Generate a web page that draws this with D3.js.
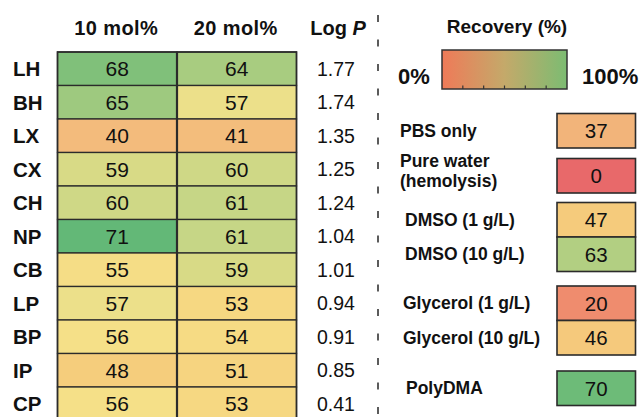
<!DOCTYPE html>
<html>
<head>
<meta charset="utf-8">
<script src="https://cdn.jsdelivr.net/npm/d3@7"></script>
<style>
  body { margin: 0; background: #fff; }
  text { font-family: 'Liberation Sans', Arial, sans-serif; fill: #111; }
</style>
</head>
<body>
<div id="chart-area"></div>
<script>
// DATA
const rows = ['LH', 'BH', 'LX', 'CX', 'CH', 'NP', 'CB', 'LP', 'BP', 'IP', 'CP']
const columns = ['10 mol%', '20 mol%']
const mol10 = [68, 65, 40, 59, 60, 71, 55, 57, 56, 48, 56]
const mol20 = [64, 57, 41, 60, 61, 61, 59, 53, 54, 51, 53]
const logP = ['1.77', '1.74', '1.35', '1.25', '1.24', '1.04', '1.01', '0.94', '0.91', '0.85', '0.41']

const controls = ['PBS only', 'Pure water|(hemolysis)', 'DMSO (1 g/L)', 'DMSO (10 g/L)',
                  'Glycerol (1 g/L)', 'Glycerol (10 g/L)', 'PolyDMA']
const controlValues = [37, 0, 47, 63, 20, 46, 70]
const controlGroup = [0, 1, 2, 2, 3, 3, 4]

// colour stops read from the cells
const colorStops = [0, 20, 40, 48, 53, 56, 57, 59, 61, 64, 68, 71]
const colorRange = ['#e8696a', '#ef8c6e', '#f3bb7c', '#f5cd7c', '#f6d882', '#f5e088',
                    '#ece08a', '#d8da86', '#c6d686', '#a8cc80', '#80c07a', '#63b877']

const width = 639
const height = 417

const svg = d3.select('#chart-area')
              .append('svg')
              .attr('width', width)
              .attr('height', height)

const color = d3.scaleLinear()
                .domain(colorStops)
                .range(colorRange)

const y = d3.scaleBand()
            .domain(rows)
            .range([52, 52 + rows.length * 33.5])

const x = d3.scaleBand()
            .domain(columns)
            .range([57.5, 296.5])

const cells = []
rows.forEach((r, i) => {
    cells.push({ row: r, col: columns[0], value: mol10[i] })
    cells.push({ row: r, col: columns[1], value: mol20[i] })
})

// HEATMAP
const g = svg.append('g')

g.selectAll('rect.cell')
 .data(cells)
 .enter()
 .append('rect')
 .attr('class', 'cell')
 .attr('x', d => x(d.col))
 .attr('y', d => y(d.row))
 .attr('width', x.bandwidth())
 .attr('height', y.bandwidth())
 .attr('fill', d => color(d.value))
 .attr('stroke', '#2b2b2b')
 .attr('stroke-width', 1.3)

// thicker column divider
g.append('line')
 .attr('x1', x(columns[1])).attr('x2', x(columns[1]))
 .attr('y1', y.range()[0]).attr('y2', y.range()[1])
 .attr('stroke', '#2b2b2b')
 .attr('stroke-width', 2.2)

g.append('rect')
 .attr('x', x.range()[0]).attr('y', y.range()[0])
 .attr('width', x.range()[1] - x.range()[0])
 .attr('height', y.range()[1] - y.range()[0])
 .attr('fill', 'none')
 .attr('stroke', '#2b2b2b')
 .attr('stroke-width', 1.6)

g.selectAll('text.val')
 .data(cells)
 .enter()
 .append('text')
 .attr('class', 'val')
 .attr('x', d => x(d.col) + x.bandwidth() / 2)
 .attr('y', d => y(d.row) + y.bandwidth() / 2 + 7.5)
 .attr('text-anchor', 'middle')
 .attr('font-size', '21px')
 .text(d => d.value)

g.selectAll('text.row-label')
 .data(rows)
 .enter()
 .append('text')
 .attr('class', 'row-label')
 .attr('x', 13)
 .attr('y', d => y(d) + y.bandwidth() / 2 + 7.5)
 .attr('font-size', '20.5px')
 .attr('font-weight', 'bold')
 .text(d => d)

g.selectAll('text.col-label')
 .data(columns)
 .enter()
 .append('text')
 .attr('class', 'col-label')
 .attr('x', d => x(d) + x.bandwidth() / 2 - 1)
 .attr('y', 35)
 .attr('text-anchor', 'middle')
 .attr('font-size', '20px')
 .attr('font-weight', 'bold')
 .attr('letter-spacing', '0.4px')
 .text(d => d)

const logHead = g.append('text')
                 .attr('x', 338)
                 .attr('y', 35)
                 .attr('text-anchor', 'middle')
                 .attr('font-size', '20px')
                 .attr('font-weight', 'bold')
logHead.append('tspan').text('Log ')
logHead.append('tspan').attr('font-style', 'italic').text('P')

g.selectAll('text.logp')
 .data(logP)
 .enter()
 .append('text')
 .attr('class', 'logp')
 .attr('x', 336)
 .attr('y', (d, i) => y(rows[i]) + y.bandwidth() / 2 + 7)
 .attr('text-anchor', 'middle')
 .attr('font-size', '19.5px')
 .text(d => d)

// DASHED SEPARATOR
svg.append('line')
   .attr('x1', 378).attr('x2', 378)
   .attr('y1', 15).attr('y2', height)
   .attr('stroke', '#333')
   .attr('stroke-width', 1.6)
   .attr('stroke-dasharray', '7,17.5')

// COLOUR BAR
const defs = svg.append('defs')
const grad = defs.append('linearGradient').attr('id', 'recov')
grad.append('stop').attr('offset', '0%').attr('stop-color', '#ef7a58')
grad.append('stop').attr('offset', '50%').attr('stop-color', '#c4a96a')
grad.append('stop').attr('offset', '100%').attr('stop-color', '#7cbc72')

const cb = d3.scaleLinear().domain([0, 100]).range([442, 567])
const cbTop = 50
const cbBottom = 89

svg.append('rect')
   .attr('x', cb(0)).attr('y', cbTop)
   .attr('width', cb(100) - cb(0))
   .attr('height', cbBottom - cbTop)
   .attr('fill', 'url(#recov)')
   .attr('stroke', '#333')
   .attr('stroke-width', 1.5)

svg.selectAll('line.cb-tick')
   .data(d3.range(1, 6).map(i => i * 100 / 6))
   .enter()
   .append('line')
   .attr('class', 'cb-tick')
   .attr('x1', d => cb(d)).attr('x2', d => cb(d))
   .attr('y1', cbBottom).attr('y2', cbBottom - 3.5)
   .attr('stroke', '#333')
   .attr('stroke-width', 1.2)

svg.append('text')
   .attr('x', 507).attr('y', 33)
   .attr('text-anchor', 'middle')
   .attr('font-size', '19px')
   .attr('font-weight', 'bold')
   .text('Recovery (%)')

svg.append('text')
   .attr('x', 398).attr('y', 84)
   .attr('font-size', '22px')
   .attr('font-weight', 'bold')
   .text('0%')

svg.append('text')
   .attr('x', 582).attr('y', 84)
   .attr('font-size', '22px')
   .attr('font-weight', 'bold')
   .text('100%')

// CONTROLS
const groupTop = [113.5, 158.5, 202.5, 286, 371]
const boxH = 34.5
const boxX = 557
const boxW = 78.5

const ctrl = controls.map((c, i) => {
    const grp = controlGroup[i]
    const first = controlGroup.indexOf(grp)
    return { label: c, value: controlValues[i], top: groupTop[grp] + (i - first) * boxH }
})

svg.selectAll('rect.ctrl')
   .data(ctrl)
   .enter()
   .append('rect')
   .attr('class', 'ctrl')
   .attr('x', boxX).attr('y', d => d.top)
   .attr('width', boxW).attr('height', boxH)
   .attr('fill', d => color(d.value))
   .attr('stroke', '#2b2b2b')
   .attr('stroke-width', 1.6)

svg.selectAll('text.ctrl-val')
   .data(ctrl)
   .enter()
   .append('text')
   .attr('class', 'ctrl-val')
   .attr('x', boxX + boxW / 2)
   .attr('y', d => d.top + boxH / 2 + 7.5)
   .attr('text-anchor', 'middle')
   .attr('font-size', '20.5px')
   .text(d => d.value)

const ctrlLabels = svg.selectAll('text.ctrl-label')
   .data(ctrl)
   .enter()
   .append('text')
   .attr('class', 'ctrl-label')
   .attr('x', (d, i) => i < 2 ? 400 : (i < 4 ? 405 : (i < 6 ? 403 : 406)))
   .attr('y', (d, i) => i === 1 ? d.top + 8 : d.top + boxH / 2 + 6)
   .attr('font-size', '17.5px')
   .attr('font-weight', 'bold')

ctrlLabels.each(function (d) {
    const parts = d.label.split('|')
    d3.select(this).selectAll('tspan')
      .data(parts)
      .enter()
      .append('tspan')
      .attr('x', d3.select(this).attr('x'))
      .attr('dy', (p, j) => j === 0 ? 0 : 20)
      .text(p => p)
})
</script>
</body>
</html>
